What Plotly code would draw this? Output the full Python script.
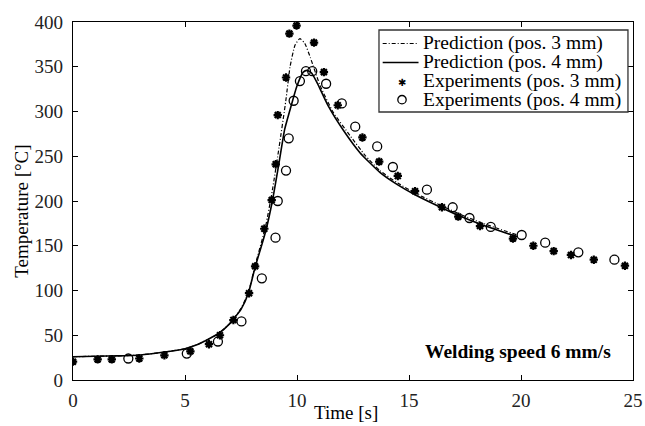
import plotly.graph_objects as go

# Prediction curves
pred3_t = [0, 1, 2, 3, 4, 5, 5.5, 6, 6.5, 7, 7.16, 7.5, 7.83, 8.13, 8.6, 8.9, 9.2, 9.5, 9.69, 9.91, 10.13, 10.35, 10.6, 11.03, 11.62, 12.37, 13.04, 13.7, 14.5, 15.27, 16.5, 17.3, 18.2, 19.0, 19.85]
pred3_T = [26, 26.5, 27, 28, 31, 35, 39, 45, 52, 63, 68, 80, 98, 128, 172, 212, 260, 312, 350, 374, 381.5, 376, 360, 329, 299, 273, 251, 234, 220, 209, 194, 185, 176, 169, 162]
pred4_t = [0, 1, 2, 3, 4, 5, 5.5, 6, 6.5, 7, 7.16, 7.5, 7.83, 8.13, 8.6, 8.9, 9.2, 9.45, 9.69, 9.99, 10.28, 10.45, 10.65, 10.9, 11.4, 12.07, 12.81, 13.7, 14.5, 15.27, 16.5, 17.3, 18.2, 19.0, 19.85]
pred4_T = [26, 26.5, 27, 28, 31, 35, 39, 45, 52, 63, 68, 79, 97, 126, 166, 200, 243, 280, 302, 328, 344, 346, 343, 332, 306, 279, 254, 232, 218, 207, 192, 183, 174, 167, 160]

# Experiments
exp3_t = [0, 1.1, 1.73, 2.96, 4.08, 5.24, 6.07, 6.56, 7.16, 7.86, 8.13, 8.54, 8.87, 9.05, 9.14, 9.51, 9.66, 9.98, 10.76, 11.2, 11.82, 12.92, 13.67, 14.5, 15.27, 16.47, 17.2, 18.17, 19.64, 20.55, 21.46, 22.23, 23.25, 24.64]
exp3_T = [20.5, 23, 23, 24, 27.6, 32, 40, 50, 67, 97, 127, 169, 201, 241, 296, 338, 387, 396, 377, 344, 307, 271, 244, 228, 211, 193, 182.5, 172, 158, 150, 144, 139.7, 134.4, 127.7]
exp4_t = [2.47, 5.08, 6.47, 7.52, 8.43, 9.04, 9.14, 9.51, 9.63, 9.85, 10.13, 10.4, 10.68, 11.3, 12.0, 12.6, 13.58, 14.28, 15.8, 16.95, 17.7, 18.65, 20.03, 21.08, 22.56, 24.17]
exp4_T = [24, 29.5, 43, 65.5, 113.6, 159, 200, 234, 270, 312, 334, 345, 345, 331, 309, 283, 261, 238, 212.6, 193, 181, 171, 162, 153.4, 142.7, 134.4]

x_ticks = [0, 5, 10, 15, 20, 25]
y_ticks = [0, 50, 100, 150, 200, 250, 300, 350, 400]

legend_labels = ["Prediction (pos. 3 mm)", "Prediction (pos. 4 mm)",
                 "Experiments (pos. 3 mm)", "Experiments (pos. 4 mm)"]

FONT = "Liberation Serif, Times New Roman, serif"
DASH = "4px,2px,1px,2px"

fig = go.Figure()
fig.add_trace(go.Scatter(x=pred3_t, y=pred3_T, mode="lines", name=legend_labels[0],
                         line=dict(color="black", width=1.2, dash=DASH, shape="spline", smoothing=0.5)))
fig.add_trace(go.Scatter(x=pred4_t, y=pred4_T, mode="lines", name=legend_labels[1],
                         line=dict(color="black", width=1.6, shape="spline", smoothing=0.5)))
fig.add_trace(go.Scatter(x=exp3_t, y=exp3_T, mode="markers", name=legend_labels[2],
                         marker=dict(symbol="asterisk-open", size=7, color="black", line=dict(color="black", width=2.2))))
fig.add_trace(go.Scatter(x=exp4_t, y=exp4_T, mode="markers", name=legend_labels[3],
                         marker=dict(symbol="circle-open", size=9, color="black", line=dict(color="black", width=1.3))))

# ---- compact legend (paper coordinates) ----
L, R, B, T = 0.5464, 0.991, 0.7486, 0.9777
fig.add_shape(type="rect", xref="paper", yref="paper", x0=L, x1=R, y0=B, y1=T,
              line=dict(color="#333", width=1.3), fillcolor="white", layer="above")
row_y = [0.940, 0.887, 0.834, 0.783]
sx0, sx1, smid, tx = 0.553, 0.617, 0.5875, 0.622
fig.add_shape(type="line", xref="paper", yref="paper", x0=sx0, x1=sx1, y0=row_y[0], y1=row_y[0],
              line=dict(color="black", width=1.2, dash=DASH), layer="above")
fig.add_shape(type="line", xref="paper", yref="paper", x0=sx0, x1=sx1, y0=row_y[1], y1=row_y[1],
              line=dict(color="black", width=1.6), layer="above")
fig.add_annotation(xref="paper", yref="paper", x=smid, y=row_y[2] - 0.004, text="✱", showarrow=False,
                   font=dict(family="DejaVu Sans", size=10, color="black"), xanchor="center", yanchor="middle")
fig.add_shape(type="circle", xref="paper", yref="paper",
              x0=smid - 0.0075, x1=smid + 0.0075, y0=row_y[3] - 0.0117, y1=row_y[3] + 0.0117,
              line=dict(color="black", width=1.3), layer="above")
legend_text = "<br>".join('<span style="font-size:19.5px">%s</span>' % s for s in legend_labels)
fig.add_annotation(xref="paper", yref="paper", x=tx, y=sum(row_y) / 4, text=legend_text, showarrow=False,
                   xanchor="left", yanchor="middle", align="left",
                   font=dict(family=FONT, size=14.6, color="black"))

fig.add_annotation(x=19.87, y=31.3, xref="x", yref="y", text="<b>Welding speed 6 mm/s</b>",
                   showarrow=False, font=dict(family=FONT, size=19.5, color="black"))

# axis titles
fig.add_annotation(xref="paper", yref="paper", x=0.4875, y=-0.092, text="Time [s]", showarrow=False,
                   xanchor="center", yanchor="middle", font=dict(family=FONT, size=19, color="black"))
fig.add_annotation(xref="paper", yref="paper", x=-0.091, y=0.47, text="Temperature [°C]", showarrow=False,
                   textangle=-90, xanchor="center", yanchor="middle", font=dict(family=FONT, size=19, color="black"))

axis_common = dict(showgrid=False, zeroline=False, showline=True, linecolor="black", linewidth=1.3,
                   mirror="ticks", ticks="inside", ticklen=5, tickcolor="black", automargin=False,
                   tickfont=dict(family=FONT, size=19, color="#222"))

fig.update_layout(
    width=645, height=426,
    margin=dict(l=73, r=12, t=22, b=46),
    paper_bgcolor="white", plot_bgcolor="white",
    font=dict(family=FONT, color="black"),
    xaxis=dict(range=[0, 25], tickvals=x_ticks, ticklabelstandoff=3, **axis_common),
    yaxis=dict(range=[0, 400], tickvals=y_ticks, ticklabelstandoff=5, **axis_common),
    showlegend=False,
)

fig.write_html("out.html")
